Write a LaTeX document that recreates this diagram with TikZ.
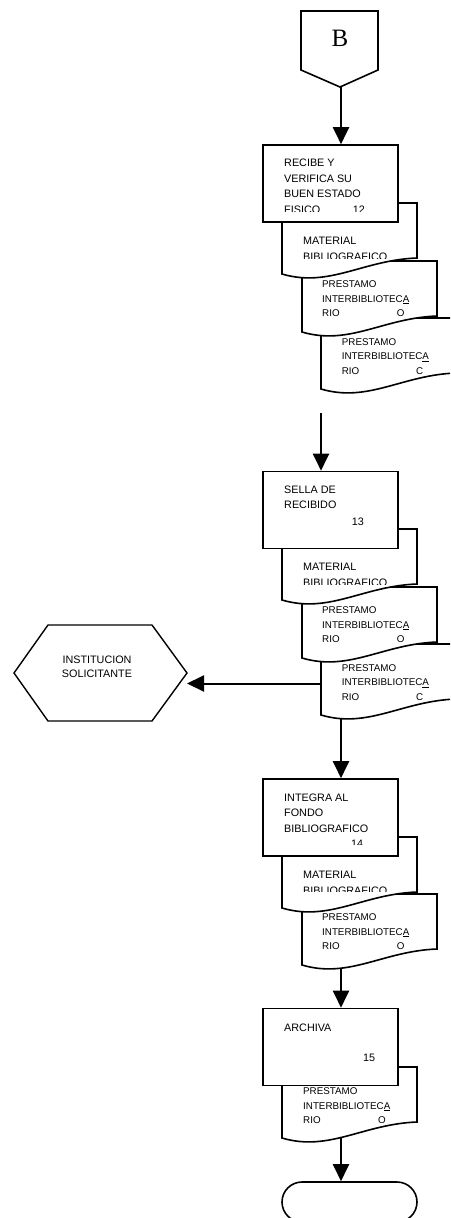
\documentclass[tikz,border=0pt]{standalone}
\usepackage{fontspec}
\setmainfont{Liberation Sans}
\newfontfamily\serifB{Liberation Serif}
\usetikzlibrary{arrows.meta}
\pgfdeclarelayer{bg}
\pgfsetlayers{bg,main}
\begin{document}
\begin{tikzpicture}[x=1pt,y=-1pt,
 shapeline/.style={draw=black, line width=1.6pt, fill=white, line join=miter},
 box/.style={shapeline, rectangle, minimum width=135pt, minimum height=77pt, inner sep=0pt},
 btxt/.style={font=\fontsize{10.8}{12}\selectfont, inner sep=0pt, anchor=base west},
 dtxt/.style={font=\fontsize{9.8}{11}\selectfont, inner sep=0pt, anchor=base west},
 arr/.style={line width=2pt, -{Triangle[length=17pt,width=16pt]}},
 docpic/.pic={
   \draw[shapeline] (0,0) -- (135,0) -- (135,55) .. controls (81,57) and (47.25,85) .. (0,71) -- cycle;
   \coordinate (-bl) at (0,71);
   \coordinate (-w) at (0,39.5);
 }]
\useasboundingbox (0,0) rectangle (450,1218);
\clip (0,0) rectangle (450,1218);

% off-page connector B
\draw[shapeline] (301,11) -- (378,11) -- (378,70) -- (340,87) -- (301,70) -- cycle;
\node[font=\serifB\fontsize{25}{27}\selectfont, inner sep=0pt] (Blbl) at (340,38.7) {B};
\coordinate (Bs) at (340,87);
\coordinate (axis) at (341,0);

% ---------- group 1 ----------
\pic (g1d3) at (321,318) {docpic};
\node[dtxt] (g1d3a) at (341.7,345) {PRESTAMO};
\node[dtxt] (g1d3b) at (341.7,359.5) {INTERBIBLIOTEC\underline{A}};
\node[dtxt] (g1d3c) at (341.7,374) {RIO};
\node[dtxt] (g1d3d) at (416,374) {C};

\pic (g1d2) at (302,261) {docpic};
\node[dtxt] (g1d2a) at (322,287.7) {PRESTAMO};
\node[dtxt] (g1d2b) at (322,302.2) {INTERBIBLIOTEC\underline{A}};
\node[dtxt] (g1d2c) at (322,316.7) {RIO};
\node[dtxt] (g1d2d) at (396.7,316.7) {O};

\pic (g1d1) at (282,203) {docpic};
\begin{scope}
\clip (282,203) rectangle (417,258.5);
\node[btxt] (g1d1a) at (303,244) {MATERIAL};
\node[btxt] (g1d1b) at (303,260.5) {BIBLIOGRAFICO};
\end{scope}

\node[box] (b1) at (330.5,183.5) {};
\begin{scope}
\clip (263,145) rectangle (398,211);
\node[btxt] (b1a) at (284,166.7) {RECIBE Y};
\node[btxt] (b1b) at (284,182.2) {VERIFICA SU};
\node[btxt] (b1c) at (284,197.7) {BUEN ESTADO};
\node[btxt] (b1d) at (284,213.2) {FISICO};
\node[btxt] (b1n) at (352.7,213.2) {12};
\end{scope}

% ---------- group 2 ----------
\pic (g2d3) at (321,644) {docpic};
\node[dtxt] (g2d3a) at (341.7,671) {PRESTAMO};
\node[dtxt] (g2d3b) at (341.7,685.5) {INTERBIBLIOTEC\underline{A}};
\node[dtxt] (g2d3c) at (341.7,700) {RIO};
\node[dtxt] (g2d3d) at (416,700) {C};

\pic (g2d2) at (302,587) {docpic};
\node[dtxt] (g2d2a) at (322,613.7) {PRESTAMO};
\node[dtxt] (g2d2b) at (322,628.2) {INTERBIBLIOTEC\underline{A}};
\node[dtxt] (g2d2c) at (322,642.7) {RIO};
\node[dtxt] (g2d2d) at (396.7,642.7) {O};

\pic (g2d1) at (282,529) {docpic};
\begin{scope}
\clip (282,529) rectangle (417,584.3);
\node[btxt] (g2d1a) at (303,570) {MATERIAL};
\node[btxt] (g2d1b) at (303,586.5) {BIBLIOGRAFICO};
\end{scope}

\node[box] (b2) at (330.5,510) {};
\node[btxt] (b2a) at (284,493.7) {SELLA DE};
\node[btxt] (b2b) at (284,508.7) {RECIBIDO};
\node[btxt] (b2n) at (351.7,525.4) {13};

% hexagon
\draw[shapeline, line width=1.4pt] (14,673) -- (48,625) -- (152,625) -- (187,673) -- (152,721) -- (48,721) -- cycle;
\node[font=\fontsize{10.8}{14.3}\selectfont, align=center, inner sep=0pt] (hext) at (97,667) {INSTITUCION\\SOLICITANTE};
\coordinate (hexE) at (187,673);

% ---------- group 3 ----------
\pic (g3d2) at (302,894) {docpic};
\node[dtxt] (g3d2a) at (322,920.7) {PRESTAMO};
\node[dtxt] (g3d2b) at (322,935.2) {INTERBIBLIOTEC\underline{A}};
\node[dtxt] (g3d2c) at (322,949.7) {RIO};
\node[dtxt] (g3d2d) at (396.7,949.7) {O};

\pic (g3d1) at (282,837) {docpic};
\begin{scope}
\clip (282,837) rectangle (417,891);
\node[btxt] (g3d1a) at (303,878) {MATERIAL};
\node[btxt] (g3d1b) at (303,894.5) {BIBLIOGRAFICO};
\end{scope}

\node[box] (b3) at (330.5,817.5) {};
\begin{scope}
\clip (263,779) rectangle (398,844);
\node[btxt] (b3a) at (284,801) {INTEGRA AL};
\node[btxt] (b3b) at (284,816.5) {FONDO};
\node[btxt] (b3c) at (284,832) {BIBLIOGRAFICO};
\node[btxt] (b3n) at (351,847.5) {14};
\end{scope}

% ---------- group 4 ----------
\pic (g4d1) at (282,1067) {docpic};
\node[dtxt] (g4d1a) at (303,1094) {PRESTAMO};
\node[dtxt] (g4d1b) at (303,1109) {INTERBIBLIOTEC\underline{A}};
\node[dtxt] (g4d1c) at (303,1123.5) {RIO};
\node[dtxt] (g4d1d) at (378,1123.5) {O};

\node[box] (b4) at (330.5,1047) {};
\node[btxt] (b4a) at (284,1031) {ARCHIVA};
\node[btxt] (b4n) at (363,1061) {15};

% terminator
\node[shapeline, rectangle, rounded corners=20pt, minimum width=135pt, minimum height=40pt] (term) at (349.5,1202) {};

% ---------- connectors ----------
\coordinate (gap2) at (321,413);
\begin{pgfonlayer}{bg}
\draw[arr] (axis |- Bs) -- (axis |- b1.north);
\draw[arr] (gap2) -- (gap2 |- b2.north);
\draw[arr] (g2d3-w) -- (g2d3-w -| hexE);
\draw[arr] (axis |- g2d3-bl) -- (axis |- b3.north);
\draw[arr] (axis |- g3d2-bl) -- (axis |- b4.north);
\draw[arr] (axis |- g4d1-bl) -- (axis |- term.north);
\end{pgfonlayer}
\end{tikzpicture}
\end{document}
